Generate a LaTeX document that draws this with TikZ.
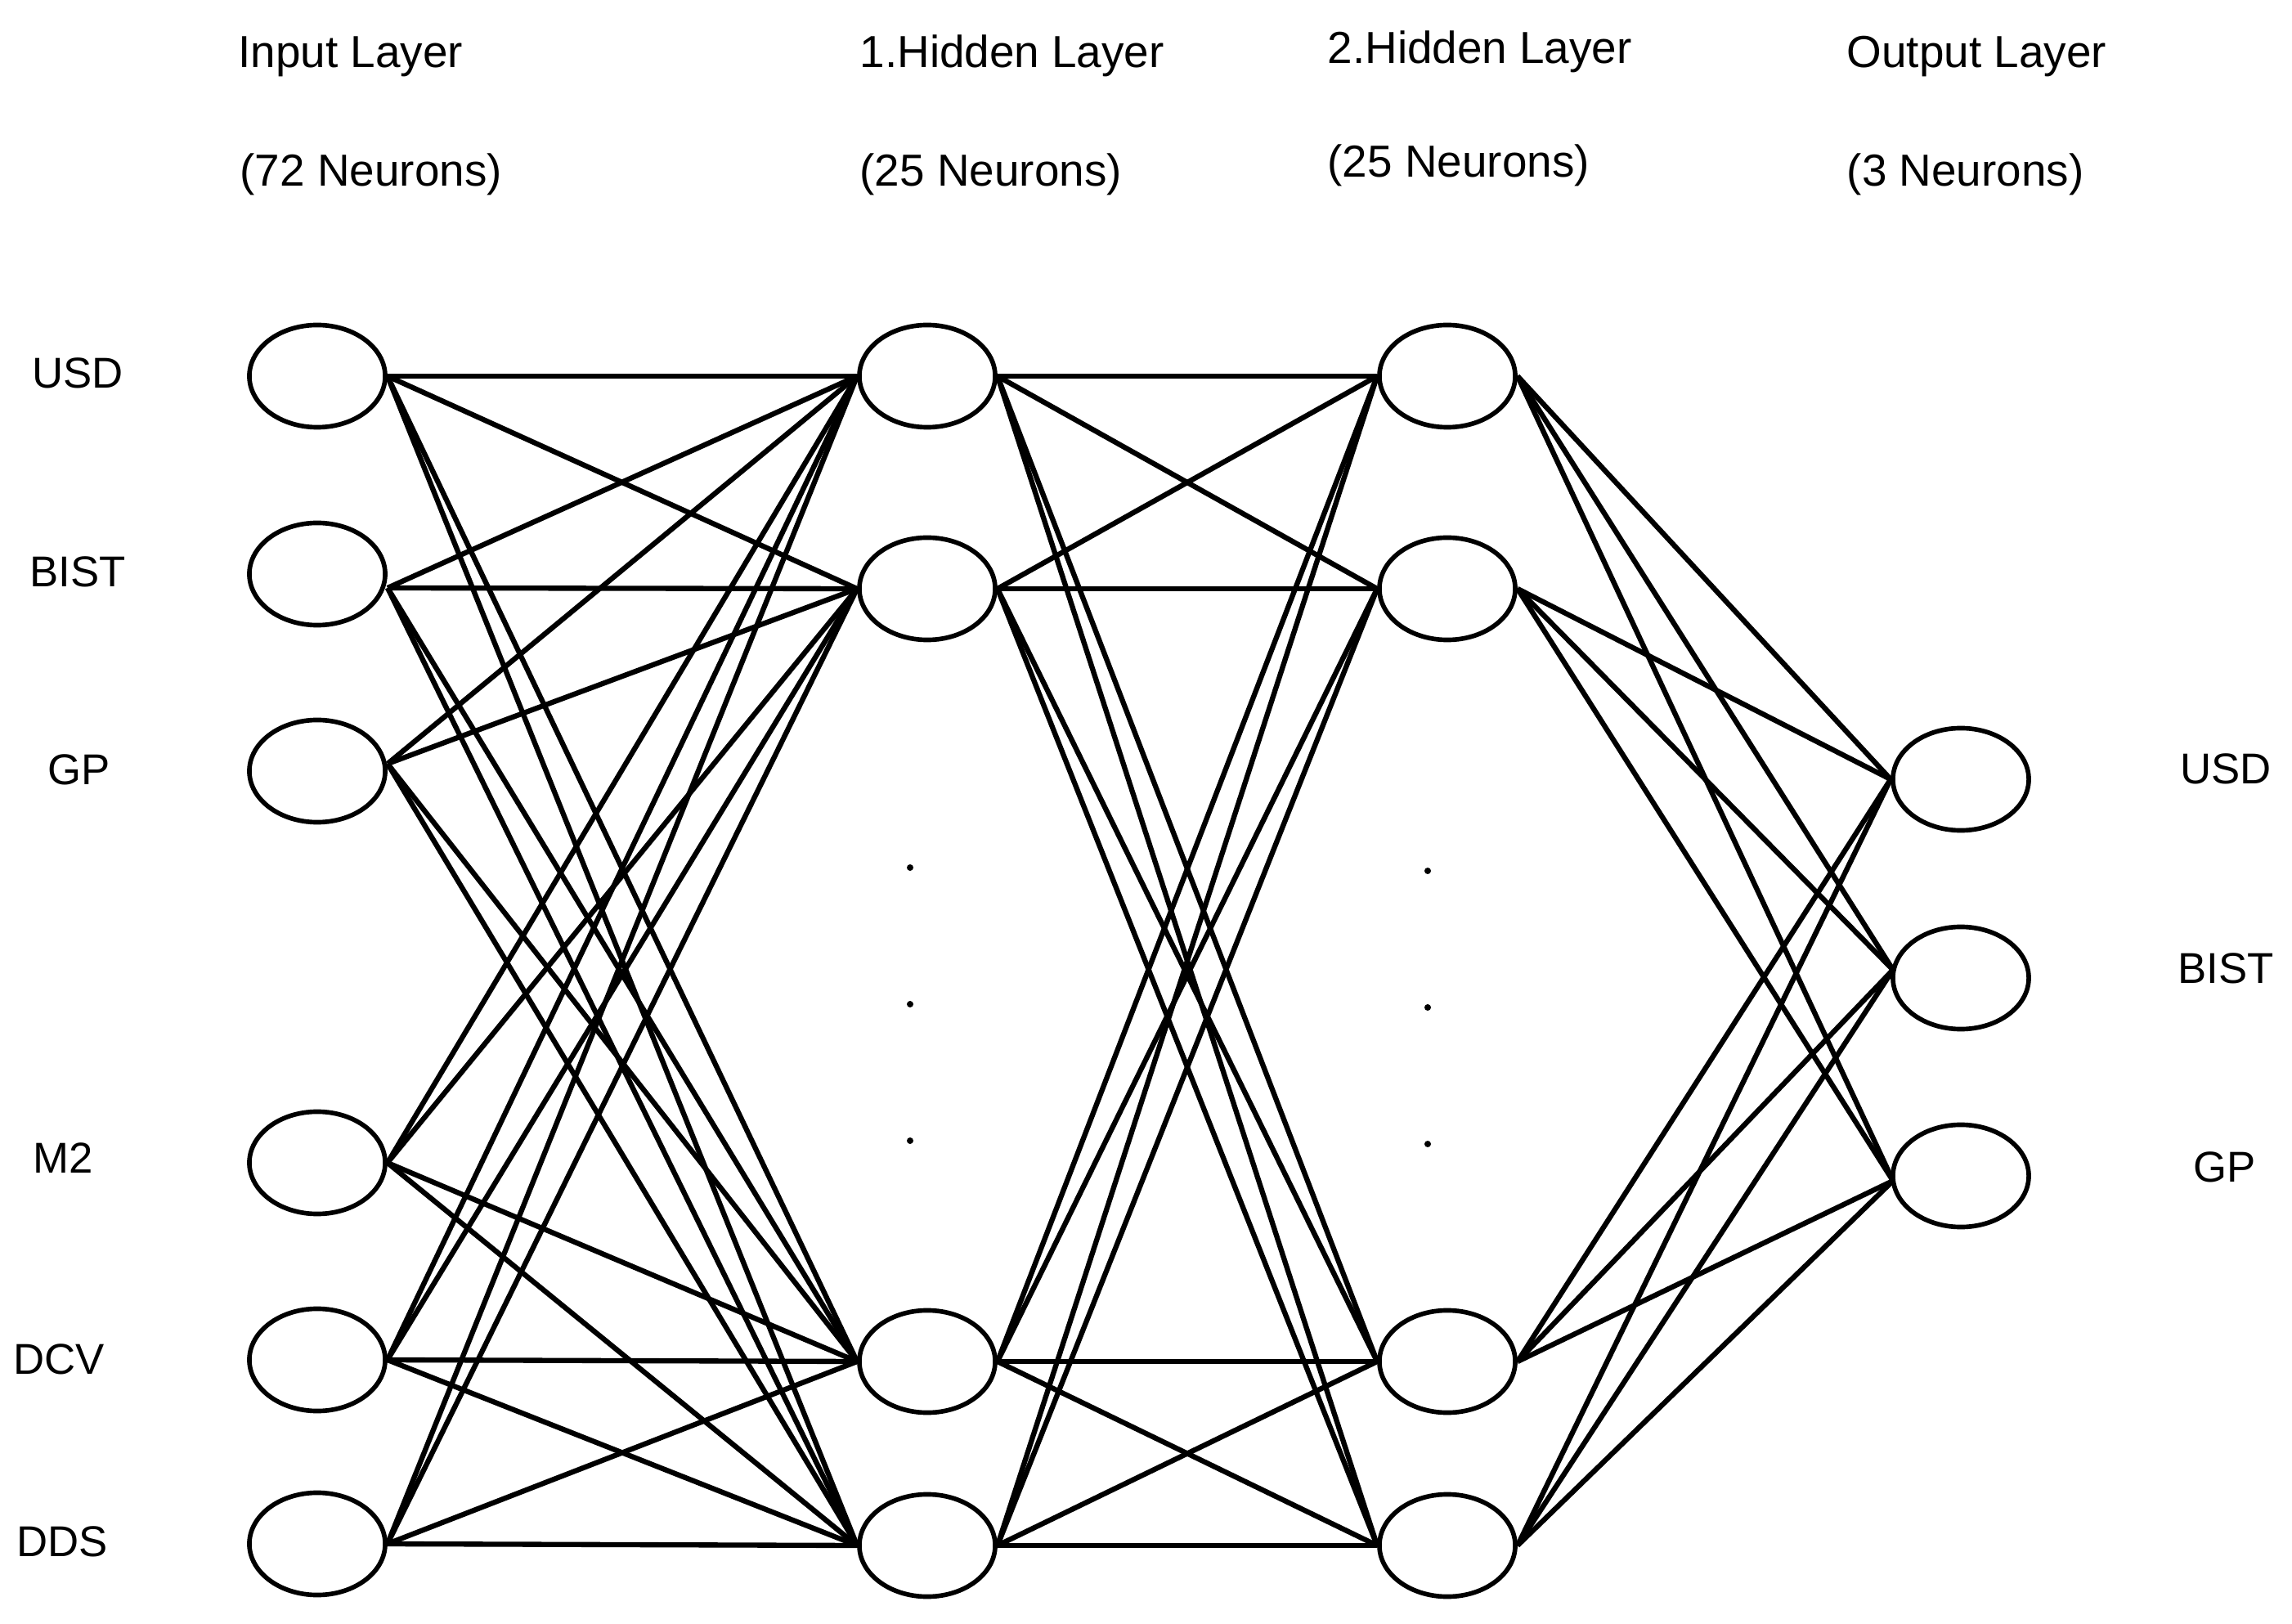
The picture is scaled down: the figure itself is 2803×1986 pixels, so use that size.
\documentclass[tikz,border=0pt]{standalone}
\usepackage{fontspec}
\setmainfont{Liberation Sans}
\usetikzlibrary{shapes.geometric}
\begin{document}
\begin{tikzpicture}[x=0.01cm,y=-0.01cm,
  neuron/.style={ellipse,draw,line width=1.6pt,minimum width=1.66cm,minimum height=1.25cm,inner sep=0pt},
  conn/.style={line width=1.8pt},
  head/.style={anchor=base west,inner sep=0pt,font=\fontsize{15.6}{18}\selectfont},
  lab/.style={inner sep=0pt,font=\fontsize{15}{18}\selectfont},
  dotmark/.style={circle,fill,inner sep=0pt,minimum size=0.08cm}]
\useasboundingbox (0,0) rectangle (2803,1986);

% headers
\node[head] (hIn)  at (291,83)  {Input Layer};
\node[head] (nIn)  at (293,228) {(72 Neurons)};
\node[head] (hH1)  at (1051,83) {1.Hidden Layer};
\node[head] (nH1)  at (1051,228) {(25 Neurons)};
\node[head] (hH2)  at (1623,78) {2.Hidden Layer};
\node[head] (nH2)  at (1623,217) {(25 Neurons)};
\node[head] (hOut) at (2258,83) {Output Layer};
\node[head] (nOut) at (2258,228) {(3 Neurons)};

% input layer
\node[neuron] (i1) at (388,460) {};
\node[neuron] (i2) at (388,702) {};
\node[neuron] (i3) at (388,943) {};
\node[neuron] (i4) at (388,1422) {};
\node[neuron] (i5) at (388,1663) {};
\node[neuron] (i6) at (388,1888) {};
\coordinate (i2c) at (474,719);
\coordinate (i3c) at (474,934);

% hidden layer 1
\node[neuron] (h1) at (1134,460) {};
\node[neuron] (h2) at (1134,720) {};
\node[neuron] (h3) at (1134,1665) {};
\node[neuron] (h4) at (1134,1890) {};

% hidden layer 2
\node[neuron] (g1) at (1770,460) {};
\node[neuron] (g2) at (1770,720) {};
\node[neuron] (g3) at (1770,1665) {};
\node[neuron] (g4) at (1770,1890) {};

% output layer
\node[neuron] (o1) at (2398,953) {};
\node[neuron] (o2) at (2398,1196) {};
\node[neuron] (o3) at (2398,1438) {};
\coordinate (o2c) at (2315,1186);
\coordinate (o3c) at (2315,1444);

% labels
\node[lab] (lUSD)  at (95,456)  {USD};
\node[lab] (lBIST) at (95,699)  {BIST};
\node[lab] (lGP)   at (97,941)  {GP};
\node[lab] (lM2)   at (77,1416) {M2};
\node[lab] (lDCV)  at (72,1662) {DCV};
\node[lab] (lDDS)  at (76,1885) {DDS};
\node[lab] (rUSD)  at (2722,940)  {USD};
\node[lab] (rBIST) at (2722,1184) {BIST};
\node[lab] (rGP)   at (2721,1427) {GP};

% dots
\node[dotmark] (d1) at (1113,1061) {};
\node[dotmark] (d2) at (1113,1228) {};
\node[dotmark] (d3) at (1113,1395) {};
\node[dotmark] (e1) at (1746,1065) {};
\node[dotmark] (e2) at (1746,1232) {};
\node[dotmark] (e3) at (1746,1399) {};

% connections
\foreach \a in {i1.east,i2c,i3c,i4.east,i5.east,i6.east}
  \foreach \b in {h1,h2,h3,h4}
    \draw[conn] (\a) -- (\b.west);
\foreach \a in {h1,h2,h3,h4}
  \foreach \b in {g1,g2,g3,g4}
    \draw[conn] (\a.east) -- (\b.west);
\foreach \a in {g1,g2,g3,g4}
  \foreach \b in {o1.west,o2c,o3c}
    \draw[conn] (\a.east) -- (\b);
\end{tikzpicture}
\end{document}
